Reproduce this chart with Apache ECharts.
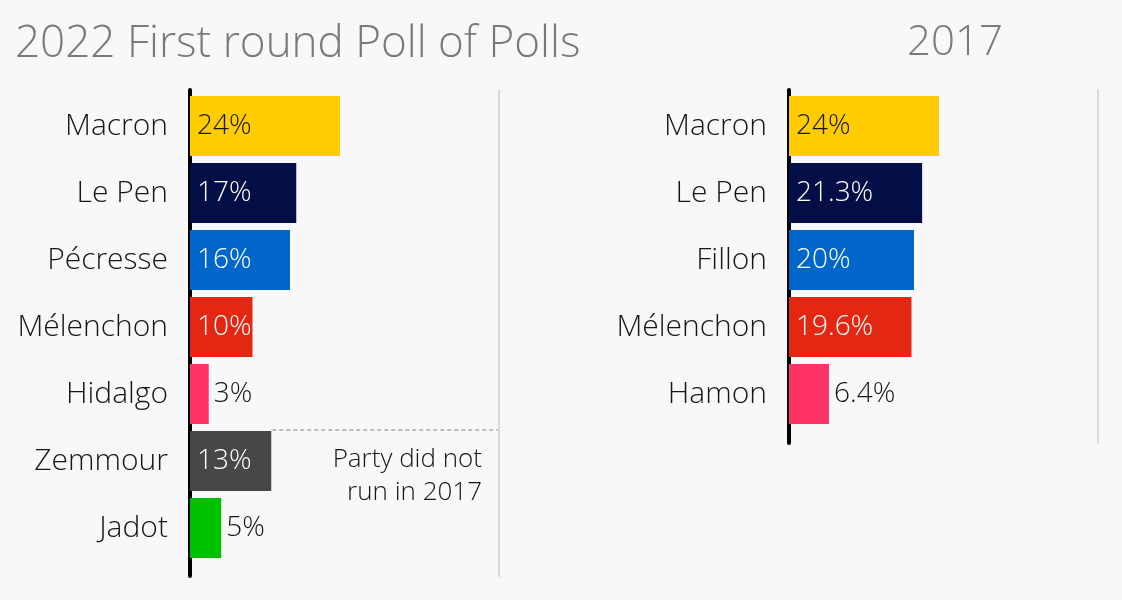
<!DOCTYPE html>
<html>
<head>
<meta charset="utf-8">
<script src="https://cdn.jsdelivr.net/npm/echarts@6/dist/echarts.min.js"></script>
<style>
  html, body { margin: 0; padding: 0; background: #f8f8fa; }
  #chart { width: 1122px; height: 600px; }
</style>
</head>
<body>
<div id="chart"></div>
<script>
// 2022 first round poll of polls
const cats2022 = ['Macron', 'Le Pen', 'Pécresse', 'Mélenchon', 'Hidalgo', 'Zemmour', 'Jadot'];
const vals2022 = [24, 17, 16, 10, 3, 13, 5];
const colors2022 = ['#ffcc00', '#020e45', '#0066cc', '#e42713', '#ff3366', '#474747', '#00c000'];

// 2017 first round results
const cats2017 = ['Macron', 'Le Pen', 'Fillon', 'Mélenchon', 'Hamon'];
const vals2017 = [24, 21.3, 20, 19.6, 6.4];
const colors2017 = ['#ffcc00', '#020e45', '#0066cc', '#e42713', '#ff3366'];

const FONT = '"Open Sans", Lato, sans-serif';
const darkText = '#161616';

function barData(vals, colors) {
    return vals.map((v, i) => {
        const outside = v < 8;
        const light = colors[i] !== '#ffcc00' && !outside;
        return {
            value: v,
            itemStyle: { color: colors[i] },
            label: {
                position: outside ? 'right' : 'insideLeft',
                distance: outside ? 5 : 7,
                color: light ? '#fff' : darkText
            }
        };
    });
}

const barLabel = {
    show: true,
    formatter: p => p.value + '%',
    fontSize: 28,
    fontWeight: 300,
    fontFamily: FONT
};

const catAxis = (gridIndex, data) => ({
    type: 'category',
    gridIndex: gridIndex,
    data: data,
    inverse: true,
    axisLine: { show: false },
    axisTick: { show: false },
    axisLabel: { margin: 22, fontSize: 30, color: darkText, fontFamily: FONT, fontWeight: 300 }
});

const valAxis = (gridIndex) => ({
    type: 'value',
    gridIndex: gridIndex,
    min: 0,
    max: 48,
    show: false
});

// frame axes: black baseline on the left, grey rule on the right
const frameY = (gridIndex, pos, color, width) => ({
    type: 'value',
    gridIndex: gridIndex,
    position: pos,
    axisLine: { show: true, lineStyle: { color: color, width: width } },
    axisTick: { show: false },
    axisLabel: { show: false },
    splitLine: { show: false }
});

const option = {
    backgroundColor: '#f8f8fa',
    animation: false,
    title: [
        {
            text: '2022 First round Poll of Polls',
            left: 10, top: 17,
            textStyle: { fontSize: 44, fontWeight: 300, color: '#7a7a7a', fontFamily: FONT }
        },
        {
            text: '2017',
            left: 902, top: 17,
            textStyle: { fontSize: 42, fontWeight: 300, color: '#7a7a7a', fontFamily: FONT }
        }
    ],
    grid: [
        { left: 190, top: 92.5, width: 300, height: 469 },
        { left: 789, top: 92.5, width: 300, height: 335 },
        { left: 190, top: 90, width: 309, height: 486 },
        { left: 789, top: 90, width: 309, height: 353 }
    ],
    xAxis: [
        valAxis(0),
        valAxis(1),
        { type: 'value', gridIndex: 2, show: false },
        { type: 'value', gridIndex: 3, show: false }
    ],
    yAxis: [
        catAxis(0, cats2022),
        catAxis(1, cats2017),
        frameY(2, 'left', '#000', 4),
        frameY(2, 'right', '#d9d9d9', 2),
        frameY(3, 'left', '#000', 4),
        frameY(3, 'right', '#d9d9d9', 2)
    ],
    series: [
        {
            type: 'bar',
            xAxisIndex: 0, yAxisIndex: 0,
            barWidth: 60,
            label: barLabel,
            data: barData(vals2022, colors2022)
        },
        {
            type: 'bar',
            xAxisIndex: 1, yAxisIndex: 1,
            barWidth: 60,
            label: barLabel,
            data: barData(vals2017, colors2017)
        }
    ]
};

const chart = echarts.init(document.getElementById('chart'));
chart.setOption(option);

// dotted separator above the parties that did not run in 2017
const zi = cats2022.indexOf('Zemmour');
const pz = chart.convertToPixel({ gridIndex: 0 }, [vals2022[zi], cats2022[zi]]);
const sepY = pz[1] - 30 - 1;
chart.setOption({
    graphic: [
        {
            type: 'line',
            shape: { x1: pz[0] + 1, y1: sepY, x2: 498, y2: sepY },
            style: { stroke: '#bdbdbd', lineWidth: 2, lineDash: [4, 3] }
        },
        {
            type: 'text',
            x: 482,
            y: pz[1] - 18,
            style: {
                text: 'Party did not\nrun in 2017',
                align: 'right',
                verticalAlign: 'top',
                fill: darkText,
                font: '300 26px ' + FONT,
                lineHeight: 33
            }
        }
    ]
});
</script>
</body>
</html>
